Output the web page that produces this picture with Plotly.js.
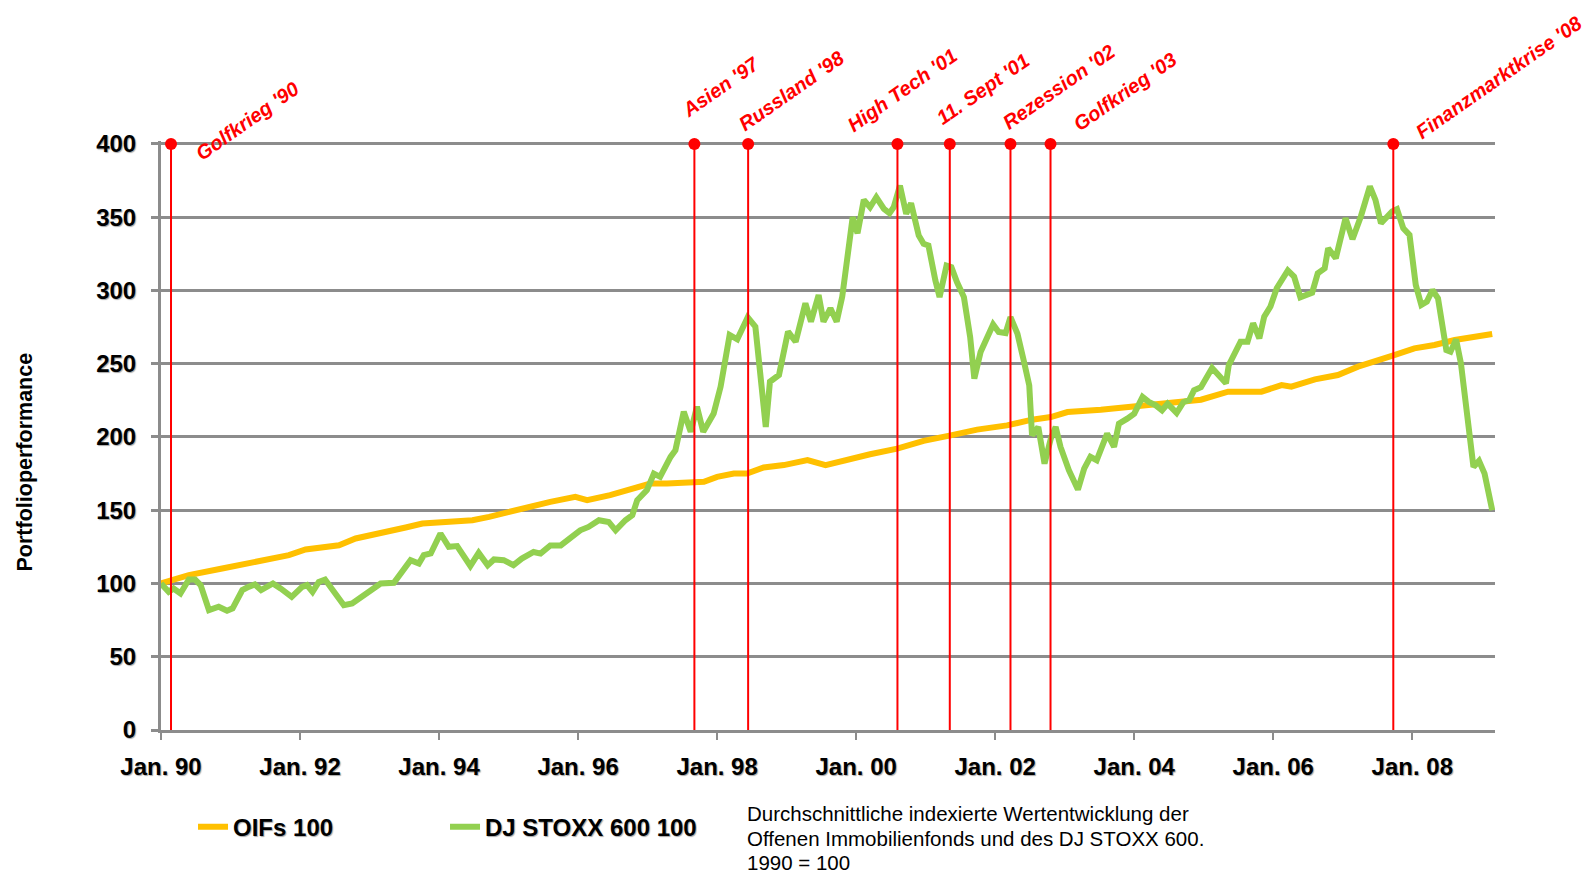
<!DOCTYPE html>
<html>
<head>
<meta charset="utf-8">
<script src="https://cdn.plot.ly/plotly-3.0.1.min.js"></script>
<style>html,body{margin:0;padding:0;background:#fff;}</style>
</head>
<body>
<div id="chart" style="width:1595px;height:877px;"></div>
<script>
// ---- data (x in decimal years) ----
const oifYear = [1990.00,1990.40,1990.88,1991.12,1991.36,1991.60,1991.84,1992.08,1992.32,1992.56,1992.80,1993.04,1993.28,1993.52,1993.76,1994.09,1994.24,1994.48,1994.72,1994.96,1995.36,1995.60,1995.96,1996.13,1996.46,1996.80,1997.04,1997.28,1997.57,1997.81,1998.00,1998.24,1998.43,1998.67,1998.96,1999.30,1999.56,1999.73,2000.04,2000.20,2000.59,2000.97,2001.36,2001.74,2002.17,2002.53,2002.80,2003.04,2003.52,2004.00,2004.48,2004.96,2005.35,2005.83,2006.12,2006.26,2006.60,2006.93,2007.22,2007.55,2007.74,2008.03,2008.32,2008.61,2008.90,2009.15];
const oifValues = [100,105.7,110.2,112.5,114.8,117,119.3,123.2,125,126.1,130.7,133,135.2,138.2,140.9,142,143.2,143.2,145.5,148.2,153.4,155.7,159.1,156.8,160.3,164.8,168.2,168.2,169.4,169.4,172.8,175,175,179.2,180.8,184.2,180.8,183,186.4,188.2,192,197.3,201.1,205,207.9,211.8,213.6,217,218.6,220.9,223.9,225.4,230.9,230.9,235.4,234.3,239.3,242.3,248,252.5,255.9,260.5,262.8,266.2,268.9,270.3];

const stoxxYear = [1990.00,1990.11,1990.18,1990.28,1990.40,1990.49,1990.57,1990.69,1990.83,1990.95,1991.03,1991.17,1991.26,1991.35,1991.44,1991.61,1991.72,1991.88,1992.03,1992.10,1992.18,1992.27,1992.36,1992.51,1992.63,1992.75,1992.92,1993.04,1993.16,1993.35,1993.47,1993.59,1993.71,1993.78,1993.88,1994.02,1994.14,1994.26,1994.45,1994.57,1994.70,1994.79,1994.93,1995.07,1995.19,1995.36,1995.46,1995.60,1995.75,1995.89,1996.03,1996.15,1996.30,1996.44,1996.54,1996.68,1996.78,1996.85,1996.99,1997.09,1997.18,1997.33,1997.40,1997.52,1997.62,1997.71,1997.80,1997.95,1998.05,1998.18,1998.29,1998.44,1998.55,1998.70,1998.76,1998.89,1999.02,1999.13,1999.27,1999.35,1999.46,1999.53,1999.63,1999.72,1999.80,1999.95,2000.02,2000.11,2000.20,2000.29,2000.40,2000.48,2000.54,2000.63,2000.72,2000.79,2000.90,2000.97,2001.04,2001.14,2001.20,2001.30,2001.37,2001.45,2001.55,2001.64,2001.70,2001.79,2001.88,2001.97,2002.05,2002.15,2002.22,2002.32,2002.41,2002.49,2002.53,2002.62,2002.71,2002.80,2002.87,2002.94,2003.06,2003.19,2003.28,2003.37,2003.46,2003.61,2003.71,2003.78,2003.90,2004.00,2004.12,2004.21,2004.31,2004.40,2004.48,2004.61,2004.71,2004.79,2004.86,2004.96,2005.12,2005.32,2005.36,2005.53,2005.63,2005.71,2005.80,2005.87,2005.96,2006.05,2006.21,2006.30,2006.39,2006.56,2006.64,2006.74,2006.79,2006.90,2007.04,2007.14,2007.26,2007.39,2007.47,2007.55,2007.71,2007.78,2007.87,2007.96,2008.05,2008.13,2008.21,2008.29,2008.37,2008.49,2008.55,2008.63,2008.70,2008.88,2008.96,2009.04,2009.15];
const stoxxValues = [100,94.3,96.6,93.2,102.7,102.7,98.9,81.8,84.1,81.4,83,95.5,97.7,99.3,95.5,100,96.6,90.9,97.7,98.9,94.3,101.1,102.7,92,85.2,86.4,92,95.5,100,100.5,108,115.9,113.6,119.3,120.5,134.1,125,125.5,112,120.9,112.5,116.4,115.9,112.5,117,121.5,120.4,126,126,130.6,136.3,138.6,143.2,142,136.3,143.2,146.6,156.8,163.7,175,172.8,186.4,191,217.2,203.5,220.6,203.5,216,234.3,269.6,266.6,281.7,275.3,206.9,237.7,242.3,271.9,265,291.2,278.7,296.9,278.7,287.8,278.7,295.8,350,339,361.8,356.8,363.6,355.7,352.7,356.8,371.6,352.3,359.5,337.5,331.8,330.7,306.8,295.5,317,315.9,305.7,295.5,268.2,239.8,258,267,276.8,271.6,270.9,281.8,270.5,252.3,235.2,201.1,206.8,181.8,198.9,206.8,193.2,177.3,164.1,178.4,186.4,184.1,202.3,193.2,209.1,212.5,215.9,227.3,223.9,221.6,218.2,222.7,216.4,223.9,225,231.8,234,247,236.6,249,265,265,277.6,267.3,282.1,289,301.5,313.6,309.5,295.3,298.5,311.7,315.1,328.8,322,349.3,335,350.5,371,361.8,345.9,353.9,355.5,342.5,337.9,303.8,290.1,292.4,300.3,294.6,259.3,258.2,266.6,250.2,179.6,183.7,175,150];

const eventNames = ["Golfkrieg '90","Asien '97","Russland '98","High Tech '01","11. Sept '01","Rezession '02","Golfkrieg '03","Finanzmarktkrise '08"];
const eventYear = [1990.144,1997.673,1998.446,2000.594,2001.347,2002.22,2002.796,2007.727];
const eventTop = 400;

const tickYears = [1990,1992,1994,1996,1998,2000,2002,2004,2006,2008];
const tickLabels = ["Jan. 90","Jan. 92","Jan. 94","Jan. 96","Jan. 98","Jan. 00","Jan. 02","Jan. 04","Jan. 06","Jan. 08"];
const yTicks = [0,50,100,150,200,250,300,350,400];

const seriesNames = ["OIFs 100","DJ STOXX 600 100"];
const yTitle = "Portfolioperformance";
const noteLines = ["Durchschnittliche indexierte Wertentwicklung der","Offenen Immobilienfonds und des DJ STOXX 600.","1990 = 100"];

// label offsets (px) relative to event dot
const labelShift = [[76,23],[26,57],[43,53],[5,54],[33,55],[48,57],[74,52],[106,67]];

// ---- styles ----
const FONT = "Liberation Sans, Arial, Helvetica, sans-serif";
const GRID = "#8c8c8c";
const RED = "#ff0000";

const vx = [], vy = [];
eventYear.forEach(e => { vx.push(e, e, null); vy.push(0, eventTop, null); });

const traces = [
  {x: oifYear, y: oifValues, name: seriesNames[0], mode: 'lines', line: {color: '#ffc000', width: 6}, hoverinfo: 'skip'},
  {x: stoxxYear, y: stoxxValues, name: seriesNames[1], mode: 'lines', line: {color: '#92d050', width: 6}, hoverinfo: 'skip'},
  {x: vx, y: vy, mode: 'lines', line: {color: RED, width: 2}, showlegend: false, hoverinfo: 'skip'},
  {x: eventYear, y: eventYear.map(() => eventTop), mode: 'markers', marker: {color: RED, size: 12, symbol: 'circle'}, showlegend: false, cliponaxis: false, hoverinfo: 'skip'}
];

const annotations = eventNames.map((t, i) => ({
  x: eventYear[i], y: eventTop, xref: 'x', yref: 'y',
  text: t, showarrow: false, textangle: -35,
  xanchor: 'center', yanchor: 'middle',
  xshift: labelShift[i][0], yshift: labelShift[i][1],
  font: {family: FONT, size: 20, color: RED, weight: 'bold', style: 'italic'}
}));
annotations.push({
  xref: 'paper', yref: 'paper', x: -0.1016, y: 0.455, text: yTitle, showarrow: false,
  textangle: -90, xanchor: 'center', yanchor: 'middle',
  font: {family: FONT, size: 21.5, color: '#000', weight: 'bold'}
});
noteLines.forEach((t, i) => {
  annotations.push({
    xref: 'paper', yref: 'paper', x: 0.4378, y: -0.1425, yshift: -24.5 * i,
    text: t, showarrow: false, xanchor: 'left', yanchor: 'middle', align: 'left',
    font: {family: FONT, size: 20.5, color: '#000'}
  });
});

const tickFont = {family: FONT, size: 24, color: '#000', weight: 'bold', shadow: '1px 1px 1px rgba(0,0,0,0.35)'};

const layout = {
  width: 1595, height: 877,
  margin: {l: 161, r: 100, t: 141, b: 147, pad: 0},
  paper_bgcolor: '#ffffff', plot_bgcolor: '#ffffff',
  showlegend: true,
  legend: {
    orientation: 'h', x: 0.024, y: -0.165, xanchor: 'left', yanchor: 'middle',
    font: {family: FONT, size: 24, color: '#000', weight: 'bold', shadow: '1px 1px 1px rgba(0,0,0,0.35)'},
    entrywidth: 207, entrywidthmode: 'pixels', itemwidth: 30, bgcolor: 'rgba(0,0,0,0)', traceorder: 'normal'
  },
  xaxis: {
    range: [1990, 2009.19], tickmode: 'array', tickvals: tickYears, ticktext: tickLabels,
    showgrid: false, zeroline: false, showline: true, linecolor: GRID, linewidth: 3,
    ticks: 'outside', ticklen: 7, tickwidth: 2, tickcolor: GRID,
    tickfont: tickFont, ticklabelstandoff: 6
  },
  yaxis: {
    range: [0, 402], tickmode: 'array', tickvals: yTicks,
    showgrid: true, gridcolor: GRID, gridwidth: 3, zeroline: false,
    showline: true, linecolor: GRID, linewidth: 3,
    ticks: 'outside', ticklen: 7, tickwidth: 3, tickcolor: GRID,
    tickfont: tickFont, ticklabelstandoff: 10
  },
  annotations: annotations
};

Plotly.newPlot('chart', traces, layout, {staticPlot: true, displayModeBar: false});
</script>
</body>
</html>
